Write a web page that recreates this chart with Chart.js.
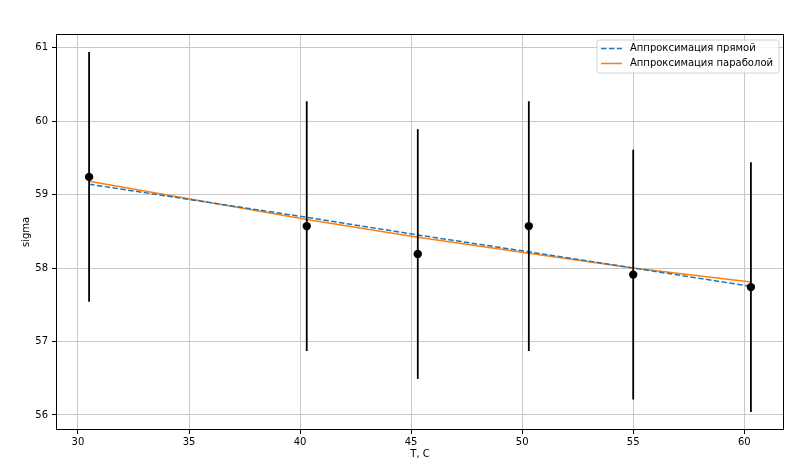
<!DOCTYPE html>
<html><head><meta charset="utf-8">
<script src="https://cdn.jsdelivr.net/npm/chart.js@4.4.0/dist/chart.umd.min.js"></script>
<style>html,body{margin:0;padding:0;background:#fff}</style>
</head><body>
<canvas id="c" width="800" height="467" style="width:800px;height:467px;display:block"></canvas>
<script>
// ---- data ----
const temps = [30.5, 40.3, 45.3, 50.3, 55.0, 60.3];
const sigma = [59.24, 58.57, 58.19, 58.57, 57.91, 57.74];
const sigmaErr = [1.7, 1.7, 1.7, 1.7, 1.7, 1.7];
const lineFit = [59.14, 58.69, 58.45, 58.22, 58.00, 57.75];
const parabolaFit = [59.18, 58.66, 58.42, 58.20, 58.00, 57.81];
const xTicks = [30, 35, 40, 45, 50, 55, 60];
const yTicks = [56, 57, 58, 59, 60, 61];
const seriesLabels = ['Аппроксимация прямой', 'Аппроксимация параболой'];
const xTitle = 'T, C';
const yTitle = 'sigma';

const toXY = (xs, ys) => xs.map((x, i) => ({x: x, y: ys[i]}));

Chart.defaults.font.family = '"DejaVu Sans", sans-serif';
Chart.defaults.font.size = 10;
Chart.defaults.color = '#000';

const errorBars = {
  id: 'errorBars',
  beforeDatasetDraw(chart, args) {
    if (args.index !== 0) return;
    const {ctx, chartArea, scales} = chart;
    ctx.save();
    ctx.beginPath();
    ctx.rect(chartArea.left, chartArea.top, chartArea.right - chartArea.left, chartArea.bottom - chartArea.top);
    ctx.clip();
    ctx.strokeStyle = '#000';
    ctx.lineWidth = 1.8;
    temps.forEach((t, i) => {
      const px = scales.x.getPixelForValue(t);
      ctx.beginPath();
      ctx.moveTo(px, scales.y.getPixelForValue(sigma[i] + sigmaErr[i]));
      ctx.lineTo(px, scales.y.getPixelForValue(sigma[i] - sigmaErr[i]));
      ctx.stroke();
    });
    ctx.restore();
  }
};

const frame = {
  id: 'frame',
  afterDatasetsDraw(chart) {
    const {ctx, chartArea: a} = chart;
    ctx.save();
    ctx.strokeStyle = '#000';
    ctx.lineWidth = 1;
    ctx.strokeRect(Math.round(a.left) + 0.5, Math.round(a.top) + 0.5,
                   Math.round(a.right - a.left) - 1, Math.round(a.bottom - a.top) - 1);
    ctx.restore();
  }
};

const legendBox = {
  id: 'legendBox',
  afterDraw(chart) {
    const {ctx, chartArea: a} = chart;
    const items = [chart.data.datasets[1], chart.data.datasets[2]];
    ctx.save();
    ctx.font = '10px "DejaVu Sans"';
    const tw = Math.max(...items.map(d => ctx.measureText(d.label).width));
    const right = a.right - 5;
    const top = a.top + 6;
    const w = 4 + 21 + 8 + tw + 6;
    const h = 33;
    const left = right - w;
    const r = 2.5;
    ctx.beginPath();
    ctx.moveTo(left + r, top);
    ctx.lineTo(right - r, top);
    ctx.arcTo(right, top, right, top + r, r);
    ctx.lineTo(right, top + h - r);
    ctx.arcTo(right, top + h, right - r, top + h, r);
    ctx.lineTo(left + r, top + h);
    ctx.arcTo(left, top + h, left, top + h - r, r);
    ctx.lineTo(left, top + r);
    ctx.arcTo(left, top, left + r, top, r);
    ctx.closePath();
    ctx.fillStyle = 'rgba(255,255,255,0.8)';
    ctx.fill();
    ctx.strokeStyle = '#d0d0d0';
    ctx.lineWidth = 1;
    ctx.stroke();
    items.forEach((d, i) => {
      const cy = top + 8.5 + i * 15;
      ctx.beginPath();
      ctx.setLineDash(d.borderDash || []);
      ctx.strokeStyle = d.borderColor;
      ctx.lineWidth = d.borderWidth;
      ctx.moveTo(left + 4, cy);
      ctx.lineTo(left + 25, cy);
      ctx.stroke();
      ctx.setLineDash([]);
      ctx.fillStyle = '#000';
      ctx.textBaseline = 'middle';
      ctx.textAlign = 'left';
      ctx.fillText(d.label, left + 33, cy);
    });
    ctx.restore();
  }
};

new Chart(document.getElementById('c'), {
  type: 'scatter',
  data: {
    datasets: [
      {
        label: 'data',
        data: toXY(temps, sigma),
        pointRadius: 4.2,
        pointHoverRadius: 4.2,
        pointBackgroundColor: '#000',
        pointBorderColor: '#000',
        pointBorderWidth: 0,
        showLine: false
      },
      {
        label: seriesLabels[0],
        data: toXY(temps, lineFit),
        showLine: true,
        borderColor: '#1f77b4',
        borderWidth: 1.5,
        borderDash: [5.5, 2.4],
        pointRadius: 0,
        tension: 0
      },
      {
        label: seriesLabels[1],
        data: toXY(temps, parabolaFit),
        showLine: true,
        borderColor: '#ff7f0e',
        borderWidth: 1.5,
        pointRadius: 0,
        tension: 0
      }
    ]
  },
  options: {
    responsive: false,
    animation: false,
    devicePixelRatio: 1,
    layout: {padding: {left: 0, top: 34, right: 16, bottom: 0}},
    plugins: {legend: {display: false}, tooltip: {enabled: false}},
    scales: {
      x: {
        type: 'linear',
        min: 29.01, max: 61.79,
        afterBuildTicks: s => { s.ticks = xTicks.map(v => ({value: v})); },
        afterFit: s => { s.height = 37; },
        grid: {color: '#c8c8c8', lineWidth: 1, tickColor: '#000', tickLength: 4, drawTicks: true},
        border: {display: false},
        ticks: {color: '#000', padding: 2, maxRotation: 0, autoSkip: false},
        title: {display: true, text: xTitle, color: '#000', font: {size: 10}, padding: {top: 0, bottom: 7}}
      },
      y: {
        type: 'linear',
        min: 55.795, max: 61.185,
        afterBuildTicks: s => { s.ticks = yTicks.map(v => ({value: v})); },
        afterFit: s => { s.width = 56; },
        grid: {color: '#c8c8c8', lineWidth: 1, tickColor: '#000', tickLength: 4, drawTicks: true},
        border: {display: false},
        ticks: {color: '#000', padding: 4, autoSkip: false},
        title: {display: true, text: yTitle, color: '#000', font: {size: 10}, padding: {top: 20, bottom: 0}}
      }
    }
  },
  plugins: [errorBars, frame, legendBox]
});
</script>
</body></html>
